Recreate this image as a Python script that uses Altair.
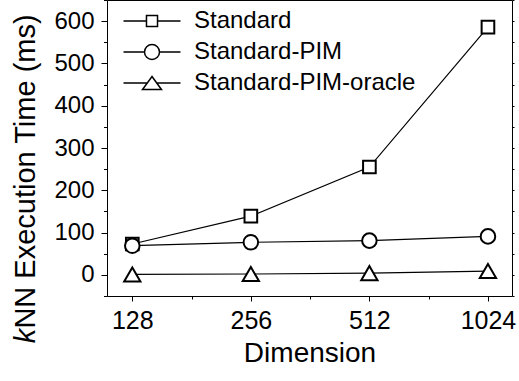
import altair as alt
import pandas as pd

dims = [128, 256, 512, 1024]
series_names = ["Standard", "Standard-PIM", "Standard-PIM-oracle"]
standard = [73, 139, 255, 586]
standard_pim = [69, 77, 81, 91]
standard_pim_oracle = [1, 2, 4, 9]

x_major = [128, 256, 512, 1024]
x_minor = [181.02, 362.04, 724.08]
y_major = [0, 100, 200, 300, 400, 500, 600]
y_minor = [-50, 50, 150, 250, 350, 450, 550, 650]
y_all = [-50, 0, 50, 100, 150, 200, 250, 300, 350, 400, 450, 500, 550, 600, 650]

rows = []
for name, vals in zip(series_names, [standard, standard_pim, standard_pim_oracle]):
    for d, v in zip(dims, vals):
        rows.append({"series": name, "dim": d, "value": v})
df = pd.DataFrame(rows)

FONT = "Liberation Sans"

xscale = alt.Scale(type="log", base=2, domain=[110.4, 1178.6], nice=False)
yscale = alt.Scale(domain=[-50, 650], nice=False, zero=False)

lines = alt.Chart(df).mark_line(color="black", strokeWidth=1.2).encode(
    x=alt.X("dim:Q", scale=xscale, axis=alt.Axis(
        orient="bottom", values=x_major, format="d", tickSize=5, tickWidth=1,
        labelFontSize=25, labelBaseline="alphabetic", labelPadding=27,
        domain=False, grid=False, title="Dimension", titleFontSize=28,
        titleBaseline="alphabetic", titleY=65, labelFlush=False, labelOverlap=False)),
    y=alt.Y("value:Q", scale=yscale, axis=alt.Axis(
        orient="left", values=y_major, tickSize=6, tickWidth=1,
        labelFontSize=24, labelPadding=7, domain=False, grid=False,
        title="NN Execution Time (ms)", titleFontSize=29, titleAngle=270,
        titleBaseline="alphabetic", titleAlign="center", titleX=-72.5, titleY=171,
        labelFlush=False, labelOverlap=False)),
    detail="series:N",
)

points = alt.Chart(df).mark_point(
    filled=True, fill="white", stroke="black", strokeWidth=2, opacity=1
).encode(
    x=alt.X("dim:Q", scale=xscale, axis=alt.Axis(
        orient="bottom", values=x_minor, tickSize=3, labels=False, domain=False,
        grid=False, title=None)),
    y=alt.Y("value:Q", scale=yscale, axis=alt.Axis(
        orient="left", values=y_minor, tickSize=3.5, labels=False, domain=False,
        grid=False, title=None)),
    shape=alt.Shape("series:N", scale=alt.Scale(
        domain=series_names, range=["square", "circle", "triangle-up"]), legend=None),
    size=alt.Size("series:N", scale=alt.Scale(
        domain=series_names, range=[160, 265, 361]), legend=None),
)

right_ticks = alt.Chart(df).mark_point(opacity=0).encode(
    x=alt.X("dim:Q", scale=xscale, axis=None),
    y=alt.Y("value:Q", scale=yscale, axis=alt.Axis(
        orient="right", values=y_all, tickSize=2, labels=False, domain=False,
        grid=False, title=None)),
)

legend_paths = [
    "M-4.75,0L-0.92,0M0.92,0L4.75,0M-0.92,-0.92L0.92,-0.92L0.92,0.92L-0.92,0.92Z",
    "M-4.75,0L-1.25,0M1.25,0L4.75,0M-1.25,0A1.25,1.25,0,1,1,1.25,0A1.25,1.25,0,1,1,-1.25,0Z",
    "M-4.75,0L-0.79,0M0.79,0L4.75,0M0,-1.08L1.58,1.08L-1.58,1.08Z",
]

legend_layer = alt.Chart(df).transform_filter("false").mark_point(
    filled=False, color="black", strokeWidth=1.5, opacity=1
).encode(
    shape=alt.Shape("series:N", scale=alt.Scale(domain=series_names, range=legend_paths),
                    legend=alt.Legend(
                        orient="none", legendX=33, legendY=9, title=None,
                        labelFont=FONT, labelFontSize=24, labelColor="black",
                        labelOffset=30, rowPadding=7, symbolSize=144,
                        symbolStrokeWidth=1.5, symbolStrokeColor="black",
                        symbolOpacity=1, padding=0, labelLimit=400)),
)

k_label = alt.Chart(pd.DataFrame({"t": ["k"]})).mark_text(
    text="k", font=FONT, fontSize=29, fontStyle="italic", angle=270,
    align="center", baseline="alphabetic", color="black"
).encode(x=alt.value(-72.5), y=alt.value(336))

chart = alt.layer(lines, points, right_ticks, legend_layer, k_label).resolve_scale(
    shape="independent"
).resolve_axis(
    x="independent", y="independent"
).properties(
    width=405, height=296,
    padding={"left": 107, "top": 0, "right": 7, "bottom": 85},
    autosize=alt.AutoSizeParams(type="none"),
    background="white",
).configure_view(
    stroke="black", strokeWidth=1
).configure_axis(
    labelFont=FONT, titleFont=FONT, labelColor="black", titleColor="black",
    tickColor="black", domainColor="black", titleFontWeight="normal",
)

chart.save("out.html", embed_options={"renderer": "svg", "actions": False})
